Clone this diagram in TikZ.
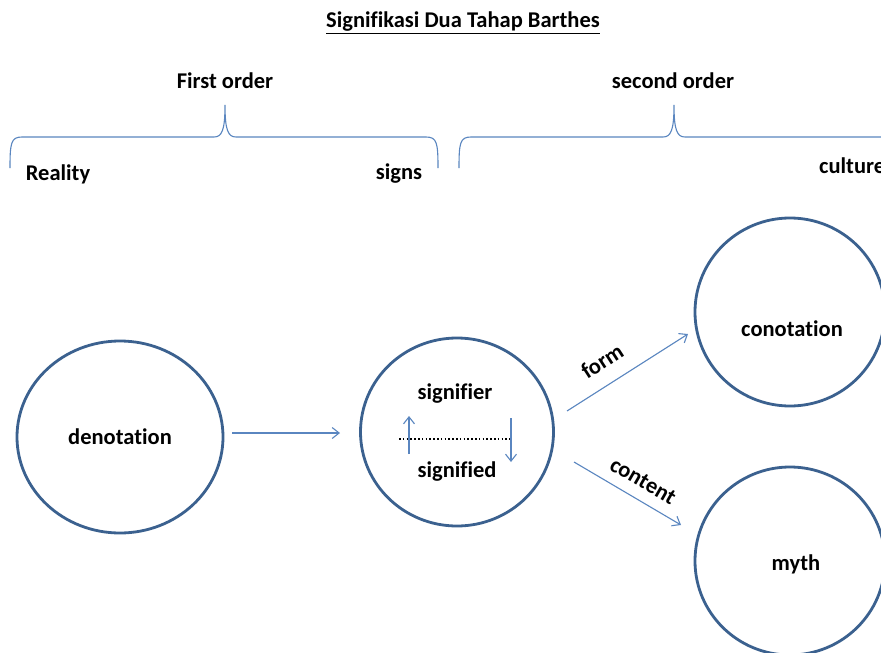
\documentclass[tikz,border=0pt]{standalone}
\usepackage{fontspec}
\setmainfont{Carlito}[Ligatures={NoCommon}]
\usetikzlibrary{arrows.meta,shapes.geometric}
\definecolor{ringblue}{HTML}{3B618F}
\definecolor{lineblue}{HTML}{5A86C0}
\tikzset{
  lbl/.style={font=\fontsize{22.5}{26}\selectfont\bfseries, text=black, inner sep=0pt},
  ring/.style={draw=ringblue, line width=2.8pt, ellipse, fill=none},
  conn/.style={draw=lineblue, line width=1.1pt, -{Straight Barb[length=7pt,width=11pt]}},
  bracepath/.style={draw=lineblue, line width=1.1pt}
}
\begin{document}
\begin{tikzpicture}[x=1pt,y=-1pt]
\useasboundingbox (0,0) rectangle (881,653);
\clip (0,0) rectangle (881,653);
\fill[white] (0,0) rectangle (881,653);

% title and headings
\node[lbl] (title) at (463,23) {\underline{Signifikasi Dua Tahap Barthes}};
\node[lbl] (first) at (225,81) {First order};
\node[lbl] (second) at (673,81) {second order};
\node[lbl] (reality) at (58,174) {Reality};
\node[lbl] (signs) at (399,174) {signs};
\node[lbl, anchor=west] (culture) at (819,166) {culture};

% braces
\draw[bracepath] (10,168) .. controls (10,143) and (11,137) .. (22,137)
  -- (214,137) .. controls (222,137) and (225,130) .. (225,105)
  .. controls (225,130) and (228,137) .. (236,137)
  -- (426,137) .. controls (437,137) and (438,143) .. (438,168);
\draw[bracepath] (459,168) .. controls (459,143) and (460,137) .. (471,137)
  -- (663,137) .. controls (671,137) and (674,130) .. (674,105)
  .. controls (674,130) and (677,137) .. (685,137)
  -- (900,137);

% circles
\node[ring, minimum width=206pt, minimum height=192pt] (den) at (120,437) {};
\node[lbl] (dentext) at (120,437) {denotation};
\node[ring, minimum width=193pt, minimum height=188pt] (mid) at (457,432) {};
\node[ring, minimum width=190pt, minimum height=188pt] (con) at (790,312) {};
\node[lbl] (context) at (792,329) {conotation};
\node[ring, minimum width=190pt, minimum height=188pt] (myth) at (790,561) {};
\node[lbl] (mythtext) at (796,564) {myth};

% inside middle circle
\node[lbl] (sigfier) at (455,394) {signifier};
\node[lbl] (sigfied) at (457,472) {signified};
\coordinate (dl) at (399,439);
\coordinate (dr) at (512,439);
\draw[line width=1.6pt, dash pattern=on 1.6pt off 2.2pt, black] (dl) -- (dr);
\coordinate (ua) at (409,454);
\coordinate (ub) at (409,416);
\coordinate (da) at (511,418);
\coordinate (db) at (511,462);
\draw[conn] (ua) -- (ub);
\draw[conn] (da) -- (db);

% connectors
\coordinate (a1) at (232,433);
\coordinate (a2) at (340,433);
\draw[conn] (a1) -- (a2);
\coordinate (f1) at (567,411);
\coordinate (f2) at (688,334);
\draw[conn] (f1) -- (f2);
\coordinate (c1) at (574,462);
\coordinate (c2) at (681,525);
\draw[conn] (c1) -- (c2);
\node[lbl, rotate=33] (formlbl) at (602,361) {form};
\node[lbl, rotate=-30] (contlbl) at (643,481) {content};
\end{tikzpicture}
\end{document}
